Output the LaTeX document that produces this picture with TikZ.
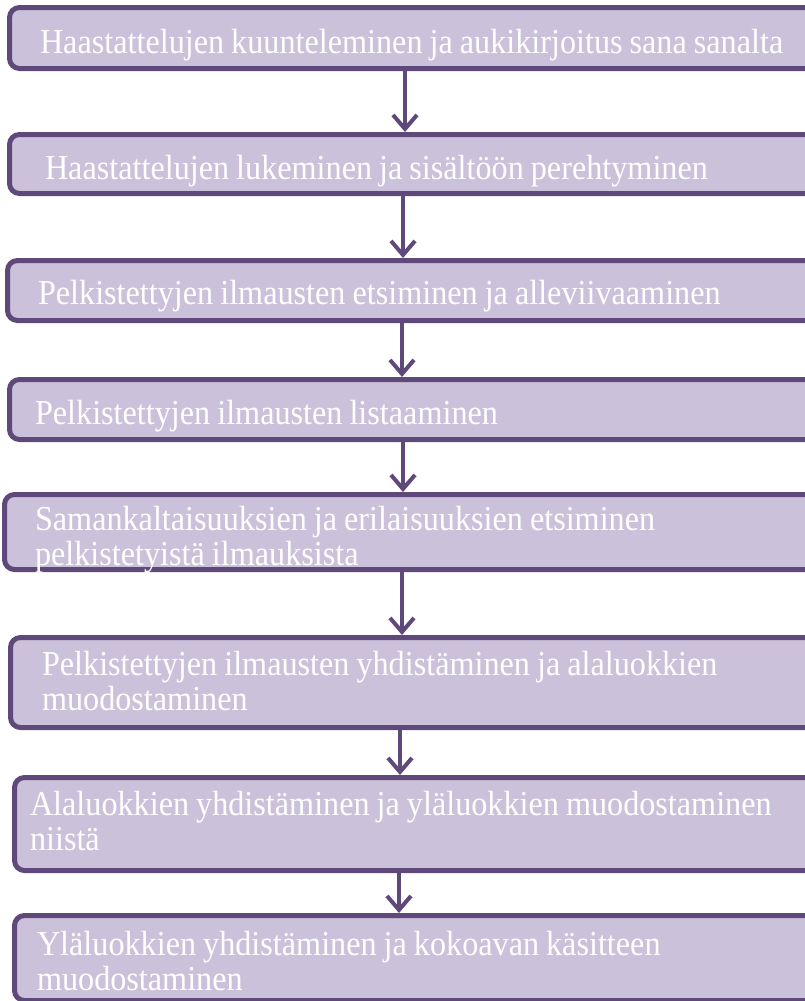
\documentclass[tikz,border=0pt]{standalone}
\usepackage{fontspec}
\setmainfont{Liberation Serif}[FakeStretch=0.92]
\usetikzlibrary{arrows.meta}
\definecolor{boxfill}{HTML}{CCC1DA}
\definecolor{boxline}{HTML}{5F497A}
\tikzset{
  stepbox/.style={draw=boxline, fill=boxfill, line width=5pt, rounded corners=10pt,
    text=white, align=left, anchor=north west, inner ysep=0pt,
    font=\fontsize{35}{35}\selectfont,
    execute at begin node={\spaceskip=7pt plus 1pt minus 1pt\relax}},
  flowarrow/.style={draw=boxline, line width=4pt,
    -{Straight Barb[length=14pt,width=24pt,line width=4pt]}}
}
\begin{document}
\begin{tikzpicture}[x=1pt,y=1pt]
\useasboundingbox (0,0) rectangle (805,-1001);
\clip (0,0) rectangle (805,-1001);
% R = 900 ; text width = R - L - 2d ; inner xsep = d - 2.5 ; min height = bottom - top - 5
\node[stepbox, inner xsep=30.5pt, text width=827pt, minimum height=61pt,
  text height=30pt, text depth=0pt] (b1) at (7,-5)
  {Haastattelujen kuunteleminen ja aukikirjoitus sana sanalta};
\node[stepbox, inner xsep=35.5pt, text width=817pt, minimum height=59pt,
  text height=30pt, text depth=0pt] (b2) at (7,-132)
  {Haastattelujen lukeminen ja sisältöön perehtyminen};
\node[stepbox, inner xsep=30.5pt, text width=829pt, minimum height=60pt,
  text height=27pt, text depth=0pt] (b3) at (5,-258)
  {Pelkistettyjen ilmausten etsiminen ja alleviivaaminen};
\node[stepbox, inner xsep=25.5pt, text width=837pt, minimum height=60pt,
  text height=29pt, text depth=0pt] (b4) at (7,-377)
  {Pelkistettyjen ilmausten listaaminen};
\node[stepbox, inner xsep=30.5pt, text width=832pt, minimum height=75pt,
  text height=31pt, text depth=35pt] (b5) at (2,-492)
  {Samankaltaisuuksien ja erilaisuuksien etsiminen\\pelkistetyistä ilmauksista};
\node[stepbox, inner xsep=31.5pt, text width=824pt, minimum height=90pt,
  text height=20pt, text depth=35pt] (b6) at (8,-635)
  {Pelkistettyjen ilmausten yhdistäminen ja alaluokkien\\muodostaminen};
\node[stepbox, inner xsep=15.5pt, text width=852pt, minimum height=93pt,
  text height=17pt, text depth=35pt] (b7) at (12,-775)
  {Alaluokkien yhdistäminen ja yläluokkien muodostaminen\\niistä};
\node[stepbox, inner xsep=22.5pt, text width=838pt, minimum height=85pt,
  text height=29pt, text depth=35pt] (b8) at (12,-913)
  {Yläluokkien yhdistäminen ja kokoavan käsitteen\\muodostaminen};
\draw[flowarrow] (405,0 |- b1.south) -- (405,0 |- b2.north);
\draw[flowarrow] (403,0 |- b2.south) -- (403,0 |- b3.north);
\draw[flowarrow] (402,0 |- b3.south) -- (402,0 |- b4.north);
\draw[flowarrow] (403,0 |- b4.south) -- (403,0 |- b5.north);
\draw[flowarrow] (402,0 |- b5.south) -- (402,0 |- b6.north);
\draw[flowarrow] (400,0 |- b6.south) -- (400,0 |- b7.north);
\draw[flowarrow] (399,0 |- b7.south) -- (399,0 |- b8.north);
\end{tikzpicture}
\end{document}
